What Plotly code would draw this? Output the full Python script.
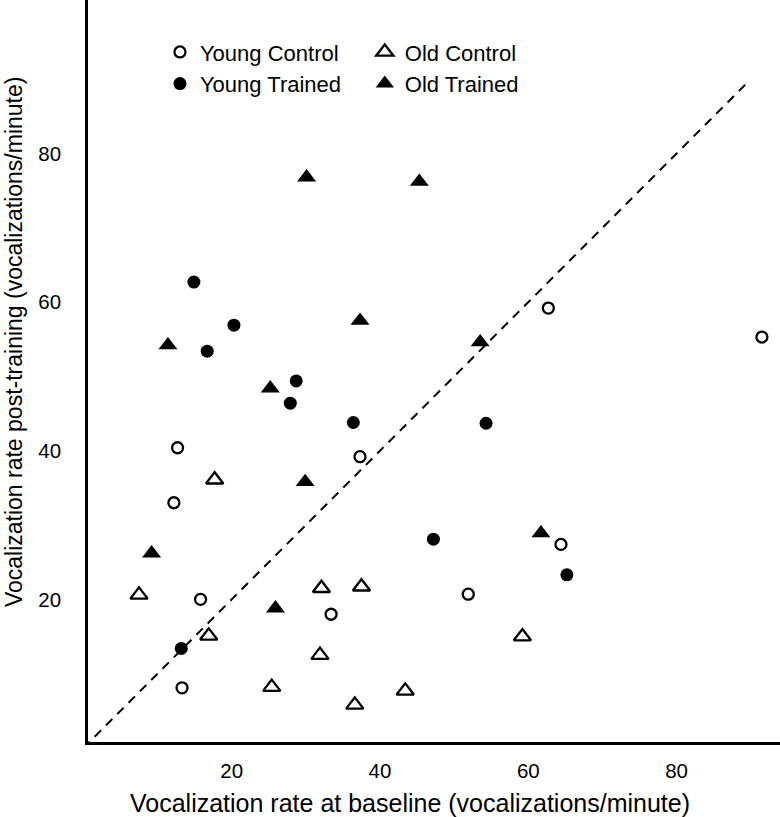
import plotly.graph_objects as go

# ---- data ----
young_control_x = [91.5, 62.7, 64.4, 51.9, 12.2, 12.7, 15.8, 13.3, 33.4, 37.3]
young_control_y = [55.3, 59.2, 27.4, 20.7, 33.0, 40.4, 20.0, 8.1, 18.0, 39.2]

young_trained_x = [14.9, 20.3, 16.7, 28.7, 27.9, 36.4, 54.3, 47.2, 65.2, 13.2]
young_trained_y = [62.7, 56.9, 53.4, 49.4, 46.4, 43.8, 43.7, 28.1, 23.3, 13.4]

old_control_x = [17.7, 7.5, 16.9, 32.1, 37.5, 31.9, 25.4, 36.6, 43.4, 59.2]
old_control_y = [36.1, 20.6, 15.1, 21.5, 21.7, 12.5, 8.2, 5.8, 7.7, 15.0]

old_trained_x = [30.1, 45.3, 53.5, 11.4, 37.3, 25.2, 29.9, 61.7, 9.2, 25.9]
old_trained_y = [76.8, 76.2, 54.6, 54.2, 57.5, 48.4, 35.8, 28.9, 26.2, 18.8]

identity_x = [0, 89.7]
identity_y = [0, 89.7]

tick_vals = [20, 40, 60, 80]
tick_text = ["20", "40", "60", "80"]

x_title = "Vocalization rate at baseline (vocalizations/minute)"
y_title = "Vocalization rate post-training (vocalizations/minute)"

FONT = "Liberation Sans, Arial, Helvetica, sans-serif"

fig = go.Figure()

fig.add_trace(go.Scatter(
    x=identity_x, y=identity_y, mode="lines",
    line=dict(color="black", width=2, dash="9px,7px"),
    showlegend=False, hoverinfo="skip"))

fig.add_trace(go.Scatter(
    x=young_control_x, y=young_control_y, mode="markers", name="Young Control",
    marker=dict(symbol="circle-open", size=11, color="black", line=dict(width=2.3, color="black")),
    legend="legend", legendgroup="yc"))
fig.add_trace(go.Scatter(
    x=young_trained_x, y=young_trained_y, mode="markers", name="Young Trained",
    marker=dict(symbol="circle", size=13, color="black"),
    legend="legend", legendgroup="yt"))
fig.add_trace(go.Scatter(
    x=old_control_x, y=old_control_y, mode="markers", name="Old Control",
    marker=dict(symbol="triangle-up-open", size=15, color="black", line=dict(width=2.3, color="black")),
    legend="legend2", legendgroup="oc"))
fig.add_trace(go.Scatter(
    x=old_trained_x, y=old_trained_y, mode="markers", name="Old Trained",
    marker=dict(symbol="triangle-up", size=16.5, color="black"),
    legend="legend2", legendgroup="ot"))

axis_common = dict(
    showgrid=False, zeroline=False, showline=True, linecolor="black", linewidth=2.5,
    ticks="", tickvals=tick_vals, ticktext=tick_text,
    tickfont=dict(family=FONT, size=20.5, color="black"),
)

legend_common = dict(
    xanchor="left", yanchor="top", bgcolor="rgba(0,0,0,0)",
    font=dict(family=FONT, size=22, color="black"),
    itemwidth=30, traceorder="grouped", tracegroupgap=0,
)

fig.update_layout(
    width=780, height=817,
    margin=dict(l=88, r=0, t=0, b=75),
    paper_bgcolor="white", plot_bgcolor="white",
    xaxis=dict(range=[0.62, 93.94], ticklabelstandoff=9, **axis_common),
    yaxis=dict(range=[0.81, 100.65], ticklabelstandoff=20, **axis_common),
    legend=dict(x=0.104, y=0.958, **legend_common),
    legend2=dict(x=0.400, y=0.958, **legend_common),
    annotations=[
        dict(text=x_title, xref="paper", yref="paper", x=(410 - 88) / 692, y=0,
             xanchor="center", yanchor="middle", yshift=-(803 - 741.75), showarrow=False,
             font=dict(family=FONT, size=25, color="black")),
        dict(text=y_title, xref="paper", yref="paper", x=0, y=(741.75 - 342) / 741.75,
             xanchor="center", yanchor="middle", xshift=14 - 88, textangle=-90, showarrow=False,
             font=dict(family=FONT, size=23, color="black")),
    ],
)

fig.write_html(
    "out.html",
    config={"displayModeBar": False},
    post_script="document.body.style.margin='0';document.body.style.padding='0';",
)
